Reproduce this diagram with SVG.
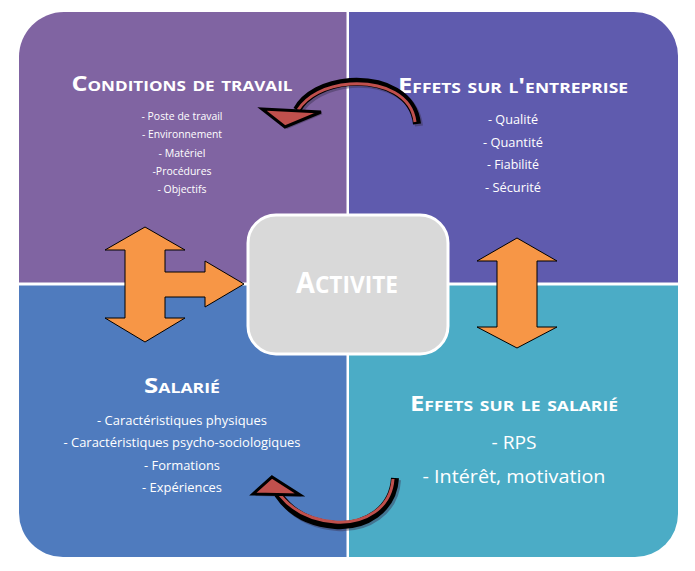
<svg xmlns="http://www.w3.org/2000/svg" width="695" height="571" viewBox="0 0 695 571">
<style>
.t{font-family:"Open Sans","Noto Sans",sans-serif;fill:#fff;text-anchor:middle}
.h{font-weight:bold;font-variant:small-caps}
.it{font-size:10.5px}
.orange{fill:#F79646;stroke:#000;stroke-width:1}
.body{fill:none;stroke:#000;stroke-width:8;stroke-linecap:butt}
.bodyin{fill:none;stroke:#C0504D;stroke-width:3}
.shadow{fill:none;stroke:#3a3050;stroke-opacity:0.45;stroke-width:8}
.head{fill:#C0504D;stroke:#000;stroke-width:3;stroke-linejoin:miter}
.headsh{fill:#3a3050;fill-opacity:0.45}
</style>
<rect width="695" height="571" fill="#fff"/>
<g id="conditions">
<path d="M19,57 A45,45 0 0 1 64,12 L346.5,12 L346.5,282.5 L19,282.5 Z" fill="#8064A2"/>
<text class="t h" x="182" y="91" font-size="22" textLength="221" lengthAdjust="spacingAndGlyphs">Conditions de travail</text>
<text class="t it" x="182" y="120" textLength="81" lengthAdjust="spacingAndGlyphs">- Poste de travail</text>
<text class="t it" x="182" y="138" textLength="80" lengthAdjust="spacingAndGlyphs">- Environnement</text>
<text class="t it" x="182" y="157" textLength="47" lengthAdjust="spacingAndGlyphs">- Matériel</text>
<text class="t it" x="182" y="175" textLength="59" lengthAdjust="spacingAndGlyphs">-Procédures</text>
<text class="t it" x="182" y="193" textLength="49" lengthAdjust="spacingAndGlyphs">- Objectifs</text>
</g>
<g id="entreprise">
<path d="M349,12 L634,12 A44,44 0 0 1 678,56 L678,282.5 L349,282.5 Z" fill="#5F5BAE"/>
<text class="t h" x="513" y="93" font-size="22" textLength="230" lengthAdjust="spacingAndGlyphs">Effets sur l'entreprise</text>
<text class="t" x="513" y="124" font-size="12.5" textLength="50" lengthAdjust="spacingAndGlyphs">- Qualité</text>
<text class="t" x="513" y="147" font-size="12.5" textLength="60" lengthAdjust="spacingAndGlyphs">- Quantité</text>
<text class="t" x="513" y="169" font-size="12.5" textLength="52" lengthAdjust="spacingAndGlyphs">- Fiabilité</text>
<text class="t" x="513" y="192" font-size="12.5" textLength="56" lengthAdjust="spacingAndGlyphs">- Sécurité</text>
</g>
<g id="salarie">
<path d="M19,285.5 L346.5,285.5 L346.5,557 L63,557 A44,44 0 0 1 19,513 Z" fill="#4F7BBE"/>
<text class="t h" x="182" y="393" font-size="22" textLength="76" lengthAdjust="spacingAndGlyphs">Salarié</text>
<text class="t" x="182" y="425" font-size="13" textLength="170" lengthAdjust="spacingAndGlyphs">- Caractéristiques physiques</text>
<text class="t" x="182" y="447" font-size="13" textLength="237" lengthAdjust="spacingAndGlyphs">- Caractéristiques psycho-sociologiques</text>
<text class="t" x="182" y="470" font-size="13" textLength="76" lengthAdjust="spacingAndGlyphs">- Formations</text>
<text class="t" x="182" y="492" font-size="13" textLength="80" lengthAdjust="spacingAndGlyphs">- Expériences</text>
</g>
<g id="effets-salarie">
<path d="M349,285.5 L678,285.5 L678,514 A43,43 0 0 1 635,557 L349,557 Z" fill="#4BACC6"/>
<text class="t h" x="514" y="411" font-size="22" textLength="208" lengthAdjust="spacingAndGlyphs">Effets sur le salarié</text>
<text class="t" x="514" y="449" font-size="19" textLength="45" lengthAdjust="spacingAndGlyphs">- RPS</text>
<text class="t" x="514" y="483" font-size="19" textLength="183" lengthAdjust="spacingAndGlyphs">- Intérêt, motivation</text>
</g>
<g id="connectors">
<polygon class="orange" points="145,227 185,250 165,250 165,272 205,272 205,261 244,284 205,307 205,297 165,297 165,318 185,318 145,342 105,318 125,318 125,250 105,250"/>
<polygon class="orange" points="517,238 557,261 537,261 537,327 557,327 517,348 477,327 497,327 497,261 477,261"/>
<g transform="translate(2,2)">
<path class="shadow" d="M417,124 C414,95 385,80 350,82 C325,84 305,95 297,110"/>
<polygon class="headsh" points="262,109 321,112 285,127"/>
</g>
<path class="body" d="M417,124 C414,95 385,80 350,82 C325,84 305,95 297,110"/>
<path class="bodyin" d="M415,122 C412,96 385,82 350,84 C325,86 307,96 298,110"/>
<polygon class="head" points="262,109 321,112 285,127"/>
<g transform="translate(2,2)">
<path class="shadow" d="M395,478 C393,510 365,527 335,525 C310,523 290,512 278,494"/>
<polygon class="headsh" points="272,477 300,495 253,494"/>
</g>
<path class="body" d="M395,478 C393,510 365,527 335,525 C310,523 290,512 278,494"/>
<path class="bodyin" d="M393,479 C391,508 365,524 335,522 C310,520 292,510 280,495"/>
<polygon class="head" points="272,477 300,495 253,494"/>
</g>
<g id="activite">
<rect x="248" y="215" width="200" height="139" rx="28" fill="#D9D9D9" stroke="#fff" stroke-width="3"/>
<text class="t h" x="347" y="293" textLength="102" lengthAdjust="spacingAndGlyphs"><tspan font-size="29">A</tspan><tspan font-size="34">ctivite</tspan></text>
</g>
</svg>
